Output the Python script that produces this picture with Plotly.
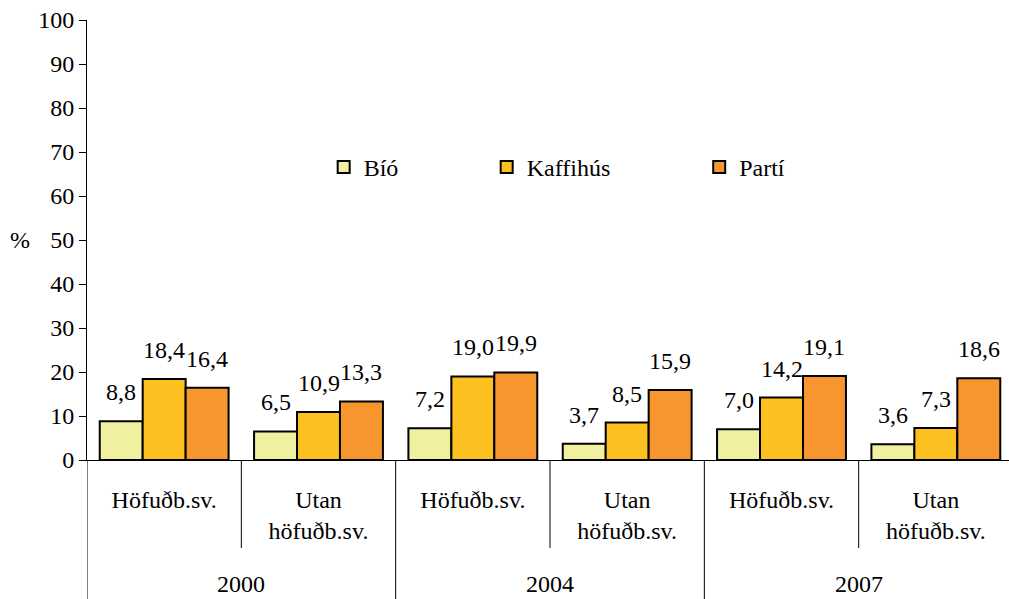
import plotly.graph_objects as go

# Share of respondents (%) by venue, region and survey year
years = ["2000", "2004", "2007"]
regions = ["Höfuðb.sv.", "Utan<br>höfuðb.sv."]
series_names = ["Bíó", "Kaffihús", "Partí"]
bio = [8.8, 6.5, 7.2, 3.7, 7.0, 3.6]
kaffihus = [18.4, 10.9, 19.0, 8.5, 14.2, 7.3]
parti = [16.4, 13.3, 19.9, 15.9, 19.1, 18.6]
y_ticks = [0, 10, 20, 30, 40, 50, 60, 70, 80, 90, 100]

colors = ["#F1EFA0", "#FDC021", "#F7962E"]
font_family = "Liberation Serif"
FS = 24
BARGAP = 0.165

n_cat = len(years) * len(regions)
x_pos = list(range(n_cat))
tick_text = [r for _ in years for r in regions]
values = [bio, kaffihus, parti]

fig = go.Figure()
legend_ids = ["legend", "legend2", "legend3"]
for name, vals, col, lg in zip(series_names, values, colors, legend_ids):
    fig.add_trace(go.Bar(
        x=x_pos, y=vals, name=name, legend=lg, showlegend=True,
        marker=dict(color=col, line=dict(color="black", width=2)),
        hoverinfo="x+y+name",
    ))

# value labels above each bar, comma as decimal separator
bw = (1 - BARGAP) / len(series_names)
annotations = []
for j, vals in enumerate(values):
    for i, v in enumerate(vals):
        annotations.append(dict(
            x=i + (j - 1) * bw, y=v, xref="x", yref="y",
            text=f"{v:.1f}".replace(".", ","), showarrow=False,
            yanchor="bottom", yshift=14,
            font=dict(family=font_family, size=FS, color="black"),
        ))

# year labels under each pair of regions
for k, yr in enumerate(years):
    annotations.append(dict(
        x=2 * k + 0.5, y=-0.281, xref="x", yref="paper",
        text=yr, showarrow=False, yanchor="middle",
        font=dict(family=font_family, size=FS, color="black"),
    ))

# y-axis unit
annotations.append(dict(
    x=-0.073, y=0.5, xref="paper", yref="paper", text="%", showarrow=False,
    xanchor="center", yanchor="middle",
    font=dict(family=font_family, size=FS, color="black"),
))

# separators of the category table below the axis
shapes = []
for b in [0.5, 2.5, 4.5]:
    shapes.append(dict(type="line", xref="x", yref="paper", x0=b, x1=b,
                       y0=0, y1=-0.2, line=dict(color="black", width=1)))
for b in [-0.5, 1.5, 3.5]:
    shapes.append(dict(type="line", xref="x", yref="paper", x0=b, x1=b,
                       y0=0, y1=-0.33, line=dict(color="black", width=1)))

legend_style = dict(
    orientation="h", yanchor="middle", xanchor="left", y=0.665,
    bgcolor="rgba(0,0,0,0)", borderwidth=0,
    font=dict(family=font_family, size=FS, color="black"),
)

fig.update_layout(
    width=1009, height=599, autosize=False,
    margin=dict(l=87, r=0, t=20, b=139),
    paper_bgcolor="white", plot_bgcolor="white",
    barmode="group", bargap=BARGAP, bargroupgap=0,
    showlegend=True,
    font=dict(family=font_family, size=FS, color="black"),
    annotations=annotations, shapes=shapes,
    legend=dict(legend_style, x=0.2567),
    legend2=dict(legend_style, x=0.4335),
    legend3=dict(legend_style, x=0.664),
    xaxis=dict(
        range=[-0.5, 5.474], tickmode="array", tickvals=x_pos, ticktext=tick_text,
        showline=True, linecolor="black", linewidth=1, ticks="",
        showgrid=False, zeroline=False, ticklabelstandoff=18,
        tickfont=dict(family=font_family, size=FS, color="black"),
    ),
    yaxis=dict(
        range=[0, 100], tickmode="array", tickvals=y_ticks, ticksuffix="\u00a0",
        showline=True, linecolor="black", linewidth=1,
        ticks="outside", ticklen=7, tickcolor="black", tickwidth=1,
        showgrid=False, zeroline=False,
        tickfont=dict(family=font_family, size=FS, color="black"),
    ),
)

fig.write_html("out.html")
